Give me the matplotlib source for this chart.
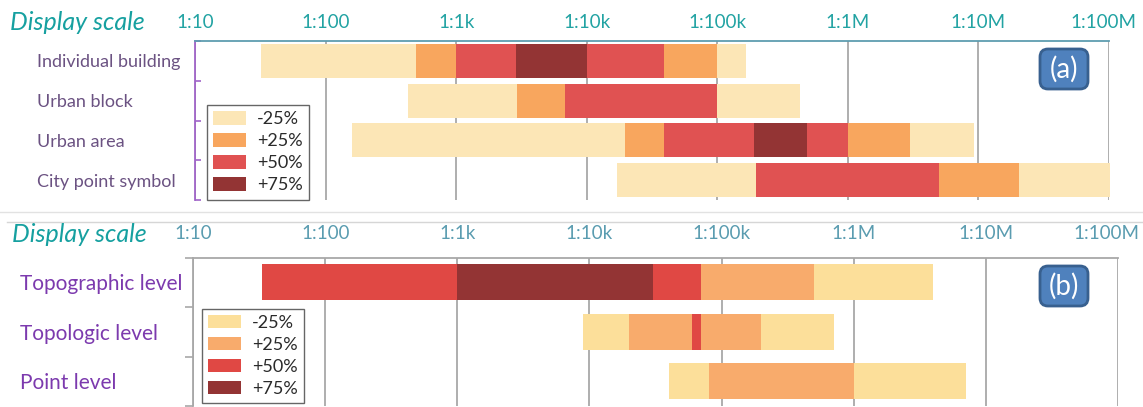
import matplotlib
matplotlib.use("Agg")
import matplotlib.pyplot as plt
from matplotlib.patches import Patch, FancyBboxPatch
from matplotlib.lines import Line2D
from matplotlib.ticker import NullLocator
from matplotlib.transforms import ScaledTranslation

FONT = ["Lato", "DejaVu Sans"]
plt.rcParams['font.family'] = FONT

# ---------------- data ----------------
scale_ticks = [10, 100, 1e3, 1e4, 1e5, 1e6, 1e7, 1e8]
scale_labels = ['1:10', '1:100', '1:1k', '1:10k', '1:100k', '1:1M', '1:10M', '1:100M']
classes = ['-25%', '+25%', '+50%', '+75%']

# panel (a)
cats_a = ['Individual building', 'Urban block', 'Urban area', 'City point symbol']
bounds_a = [
    [32, 490, 1000, 2880, 10000, 38900, 100000, 166000],
    [430, 2950, 6840, 100000, 427000],
    [159, 19700, 38900, 190000, 490000, 1000000, 2990000, 9200000],
    [17000, 197000, 5000000, 20400000, 102000000],
]
seg_class_a = [
    ['-25%', '+25%', '+50%', '+75%', '+50%', '+25%', '-25%'],
    ['-25%', '+25%', '+50%', '-25%'],
    ['-25%', '+25%', '+50%', '+75%', '+50%', '+25%', '-25%'],
    ['-25%', '+50%', '+25%', '-25%'],
]

# panel (b)
cats_b = ['Topographic level', 'Topologic level', 'Point level']
bounds_b = [
    [33, 1000, 30200, 70000, 500000, 3980000],
    [9000, 20000, 59700, 70000, 200000, 708000],
    [40000, 80700, 1000000, 7080000],
]
seg_class_b = [
    ['+50%', '+75%', '+50%', '+25%', '-25%'],
    ['-25%', '+25%', '+50%', '+25%', '-25%'],
    ['-25%', '+25%', '-25%'],
]

colors_a = {'-25%': '#FCE6B6', '+25%': '#F8A65E', '+50%': '#E05252', '+75%': '#933434'}
colors_b = {'-25%': '#FCDF9A', '+25%': '#F8AB6C', '+50%': '#E04844', '+75%': '#933434'}

W, H = 1143, 407
fig = plt.figure(figsize=(W / 100, H / 100), dpi=100)


def fbox(x0, y0, x1, y1):
    """pixel box (top-left origin) -> figure fraction rect"""
    return [x0 / W, 1 - y1 / H, (x1 - x0) / W, (y1 - y0) / H]


def draw_panel(ax, cats, bounds, seg_class, colors, height):
    for i, (b, cl) in enumerate(zip(bounds, seg_class)):
        for j, c in enumerate(cl):
            ax.barh(i, b[j + 1] - b[j], left=b[j], height=height,
                    color=colors[c], edgecolor='none', zorder=2, clip_on=False)
    ax.set_xscale('log')
    ax.set_xlim(scale_ticks[0], scale_ticks[-1])
    ax.set_ylim(len(cats) - 0.5, -0.5)
    ax.set_xticks(scale_ticks)
    ax.set_xticklabels(scale_labels)
    ax.xaxis.set_minor_locator(NullLocator())
    ax.xaxis.tick_top()
    ax.grid(axis='x', color='#A8A8A8', lw=1.3, zorder=0)
    ax.set_axisbelow(True)
    ax.spines['right'].set_visible(False)
    ax.spines['bottom'].set_visible(False)
    ax.set_yticks(range(len(cats)))
    ax.set_yticks([k + 0.5 for k in range(-1, len(cats))], minor=True)
    ax.set_facecolor('none')


def shift_last_label(ax, px):
    lab = ax.get_xticklabels()[-1]
    lab.set_transform(lab.get_transform() + ScaledTranslation(px / 100, 0, fig.dpi_scale_trans))


# ---------------- panel (a) ----------------
axa = fig.add_axes(fbox(195, 41, 1109, 200))
draw_panel(axa, cats_a, bounds_a, seg_class_a, colors_a, 0.85)
axa.spines['top'].set_color('#5E9DB0')
axa.spines['top'].set_linewidth(1.3)
axa.spines['left'].set_color('#A064C8')
axa.spines['left'].set_linewidth(1.3)
axa.tick_params(axis='x', which='major', length=0, pad=7, labelsize=13.5, labelcolor='#22A3A3')
axa.set_yticklabels(cats_a, ha='left', fontsize=13, color='#6B5282')
axa.tick_params(axis='y', which='major', length=0, pad=(195 - 37) * 0.72)
axa.tick_params(axis='y', which='minor', length=4, direction='in', color='#A064C8', width=1.2)
shift_last_label(axa, -6)
fig.text(10 / W, 1 - 23 / H, 'Display scale', fontsize=18, style='italic',
         color='#16A0A0', va='center', ha='left')

lh = [Patch(facecolor=colors_a[c], edgecolor='none', label=c) for c in classes]
lega = axa.legend(handles=lh, loc='upper left', bbox_to_anchor=(207 / W, 1 - 105 / H),
                  bbox_transform=fig.transFigure, fontsize=13, frameon=True, fancybox=False,
                  handlelength=1.8, handleheight=0.75, handletextpad=0.6, labelspacing=0.33,
                  borderpad=0.35, borderaxespad=0)
lega.get_frame().set_edgecolor('#404040')
lega.get_frame().set_linewidth(1.0)
lega.set_zorder(5)
for t in lega.get_texts():
    t.set_color('#2A2A2A')

# ---------------- panel (b) ----------------
axb = fig.add_axes(fbox(193.3, 257.7, 1117.7, 406))
draw_panel(axb, cats_b, bounds_b, seg_class_b, colors_b, 0.73)
for s in ('top', 'left'):
    axb.spines[s].set_color('#A8A8A8')
    axb.spines[s].set_linewidth(1.3)
axb.tick_params(axis='x', which='major', length=0, pad=11, labelsize=13.5, labelcolor='#5A9CB0')
axb.set_yticklabels(cats_b, ha='left', fontsize=15, color='#7C3AAE')
axb.tick_params(axis='y', which='major', length=0, pad=(193.3 - 20) * 0.72)
axb.tick_params(axis='y', which='minor', length=6, direction='out', color='#A8A8A8', width=1.2)
shift_last_label(axb, -11)
fig.text(12 / W, 1 - 235 / H, 'Display scale', fontsize=18, style='italic',
         color='#16A0A0', va='center', ha='left')

lh = [Patch(facecolor=colors_b[c], edgecolor='none', label=c) for c in classes]
legb = axb.legend(handles=lh, loc='upper left', bbox_to_anchor=(202 / W, 1 - 308.5 / H),
                  bbox_transform=fig.transFigure, fontsize=13, frameon=True, fancybox=False,
                  handlelength=1.8, handleheight=0.75, handletextpad=0.6, labelspacing=0.33,
                  borderpad=0.35, borderaxespad=0)
legb.get_frame().set_edgecolor('#404040')
legb.get_frame().set_linewidth(1.0)
legb.set_zorder(5)
for t in legb.get_texts():
    t.set_color('#2A2A2A')

# ---------------- separators ----------------
fig.add_artist(Line2D([0, 1], [1 - 211.7 / H] * 2, transform=fig.transFigure, color='#E2E2E2', lw=1))
fig.add_artist(Line2D([7 / W, 1], [1 - 222.3 / H] * 2, transform=fig.transFigure, color='#D6D6D6', lw=1))

# ---------------- panel badges ----------------
for lab, (x0, y0, x1, y1) in [('(a)', (1040, 49, 1088, 89)), ('(b)', (1040, 266, 1088, 306))]:
    box = FancyBboxPatch((x0, H - y1), x1 - x0, y1 - y0, transform=None,
                         boxstyle='round,pad=0,rounding_size=8',
                         facecolor='#4F81BD', edgecolor='#38608F', lw=2, zorder=10)
    fig.add_artist(box)
    fig.text((x0 + x1) / 2 / W, 1 - (y0 + y1) / 2 / H, lab, color='white', fontsize=20,
             ha='center', va='center', zorder=11)

fig.savefig('out.png', dpi=100)
